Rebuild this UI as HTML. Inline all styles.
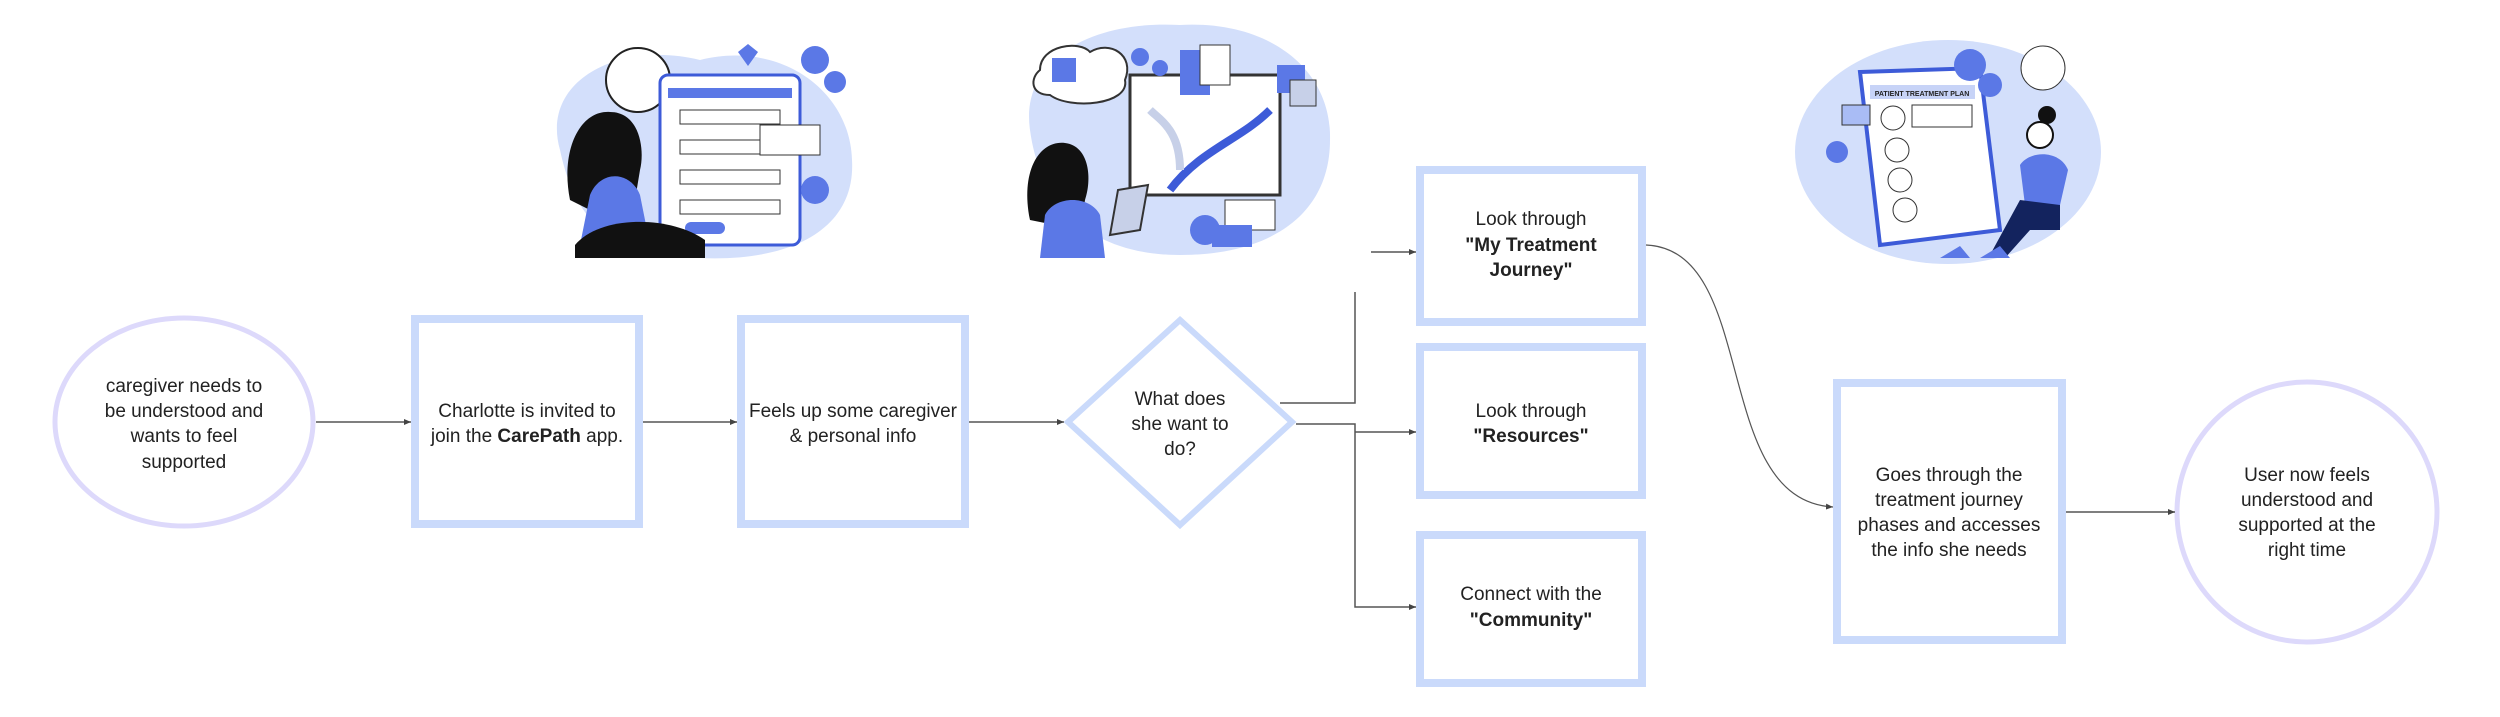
<!DOCTYPE html>
<html><head><meta charset="utf-8"><style>
html,body{margin:0;padding:0;background:#fff;}
svg{display:block;}
text{font-family:"Liberation Sans",sans-serif;font-size:19px;fill:#222;text-anchor:middle;}
.b{font-weight:bold;}
</style></head><body>
<svg width="2500" height="717" viewBox="0 0 2500 717" xmlns="http://www.w3.org/2000/svg">
<defs>
<marker id="ah" markerWidth="8" markerHeight="8" refX="7" refY="4" orient="auto" markerUnits="userSpaceOnUse">
<path d="M0,1 L7,4 L0,7 z" fill="#444"/></marker>
</defs>

<!-- illustration 1 -->
<g>
<path d="M560,150 C540,80 620,40 700,60 C780,40 850,90 852,160 C856,230 790,262 700,258 C610,258 575,220 560,150 z" fill="#d3dffb"/>
<circle cx="638" cy="80" r="32" fill="#fff" stroke="#222" stroke-width="2"/>
<rect x="660" y="75" width="140" height="170" rx="8" fill="#fff" stroke="#3d5bd8" stroke-width="3"/>
<rect x="668" y="88" width="124" height="10" fill="#5b78e6"/>
<rect x="680" y="110" width="100" height="14" fill="#fff" stroke="#333"/>
<rect x="680" y="140" width="100" height="14" fill="#fff" stroke="#333"/>
<rect x="680" y="170" width="100" height="14" fill="#fff" stroke="#333"/>
<rect x="680" y="200" width="100" height="14" fill="#fff" stroke="#333"/>
<rect x="685" y="222" width="40" height="12" rx="6" fill="#5b78e6"/>
<rect x="760" y="125" width="60" height="30" fill="#fff" stroke="#333"/>
<circle cx="815" cy="60" r="14" fill="#5b78e6"/><circle cx="835" cy="82" r="11" fill="#5b78e6"/>
<circle cx="815" cy="190" r="14" fill="#5b78e6"/>
<path d="M738,52 l10,-8 l10,8 l-10,14 z" fill="#5b78e6"/>
<path d="M570,200 C560,150 580,110 610,112 C640,112 645,150 640,170 L630,230 z" fill="#111"/>
<path d="M590,195 C600,170 630,170 640,195 L650,245 L580,245 z" fill="#5b78e6"/>
<path d="M575,245 C600,215 670,215 705,240 L705,258 L575,258 z" fill="#111"/>
</g>

<!-- illustration 2 -->
<g>
<path d="M1030,130 C1020,60 1090,20 1180,25 C1270,20 1332,70 1330,140 C1330,215 1270,255 1180,255 C1090,255 1040,205 1030,130 z" fill="#d3dffb"/>
<path d="M1040,70 C1040,45 1080,40 1090,52 C1110,40 1135,55 1125,80 C1130,105 1070,110 1050,95 C1030,95 1030,78 1040,70 z" fill="#fff" stroke="#333" stroke-width="2"/>
<rect x="1052" y="58" width="24" height="24" fill="#5b78e6"/>
<rect x="1130" y="75" width="150" height="120" fill="#fff" stroke="#333" stroke-width="3"/>
<path d="M1170,190 C1200,150 1240,140 1270,110" stroke="#3d5bd8" stroke-width="8" fill="none"/>
<path d="M1180,170 C1180,130 1160,120 1150,110" stroke="#c7d0e8" stroke-width="8" fill="none"/>
<rect x="1180" y="50" width="30" height="45" fill="#5b78e6"/>
<rect x="1200" y="45" width="30" height="40" fill="#fff" stroke="#333"/>
<rect x="1277" y="65" width="28" height="28" fill="#5b78e6"/>
<rect x="1290" y="80" width="26" height="26" fill="#c7d0e8" stroke="#333"/>
<circle cx="1140" cy="57" r="9" fill="#5b78e6"/><circle cx="1160" cy="68" r="8" fill="#5b78e6"/>
<circle cx="1205" cy="230" r="15" fill="#5b78e6"/>
<rect x="1225" y="200" width="50" height="30" fill="#fff" stroke="#333"/>
<rect x="1212" y="225" width="40" height="22" fill="#5b78e6"/>
<path d="M1030,220 C1020,170 1040,140 1065,143 C1090,146 1092,180 1085,200 L1080,230 z" fill="#111"/>
<path d="M1045,215 C1055,195 1090,195 1100,215 L1105,258 L1040,258 z" fill="#5b78e6"/>
<path d="M1118,190 l30,-5 l-8,45 l-30,5 z" fill="#c7d0e8" stroke="#333" stroke-width="2"/>
</g>

<!-- illustration 3 -->
<g>
<ellipse cx="1948" cy="152" rx="153" ry="112" fill="#d3dffb"/>
<path d="M1860,72 L1980,68 L2000,230 L1880,245 z" fill="#fff" stroke="#3d5bd8" stroke-width="4"/>
<rect x="1870" y="85" width="105" height="14" fill="#c7d3f7"/>
<text x="1922" y="96" style="font-size:7px;font-weight:bold;fill:#222;">PATIENT TREATMENT PLAN</text>
<circle cx="1893" cy="118" r="12" fill="#fff" stroke="#333"/>
<circle cx="1897" cy="150" r="12" fill="#fff" stroke="#333"/>
<circle cx="1900" cy="180" r="12" fill="#fff" stroke="#333"/>
<circle cx="1905" cy="210" r="12" fill="#fff" stroke="#333"/>
<rect x="1912" y="105" width="60" height="22" fill="#fff" stroke="#333"/>
<rect x="1842" y="105" width="28" height="20" fill="#a9bcf5" stroke="#333"/>
<circle cx="1970" cy="65" r="16" fill="#5b78e6"/><circle cx="1990" cy="85" r="12" fill="#5b78e6"/>
<circle cx="1837" cy="152" r="11" fill="#5b78e6"/>
<circle cx="2043" cy="68" r="22" fill="#fff" stroke="#333"/>
<path d="M2020,165 C2030,150 2060,150 2068,170 L2060,205 L2025,205 z" fill="#5b78e6"/>
<circle cx="2040" cy="135" r="13" fill="#fff" stroke="#111" stroke-width="2"/>
<circle cx="2047" cy="115" r="9" fill="#111"/>
<path d="M1990,255 L2020,200 L2060,205 L2060,230 L2030,230 L2005,258 z" fill="#13235e"/>
<path d="M1940,258 l20,-12 l10,12 z M1980,258 l20,-12 l10,12 z" fill="#5b78e6"/>
</g>

<!-- shapes -->
<ellipse cx="184" cy="422" rx="129" ry="104" fill="#fff" stroke="#ddd9fb" stroke-width="5"/>
<rect x="415" y="319" width="224" height="205" fill="#fff" stroke="#cadafb" stroke-width="8"/>
<rect x="741" y="319" width="224" height="205" fill="#fff" stroke="#cadafb" stroke-width="8"/>
<polygon points="1180,320 1292,422 1180,525 1068,422" fill="#fff" stroke="#cadafb" stroke-width="6"/>
<rect x="1420" y="170" width="222" height="152" fill="#fff" stroke="#cadafb" stroke-width="8"/>
<rect x="1420" y="347" width="222" height="148" fill="#fff" stroke="#cadafb" stroke-width="8"/>
<rect x="1420" y="535" width="222" height="148" fill="#fff" stroke="#cadafb" stroke-width="8"/>
<rect x="1837" y="383" width="225" height="257" fill="#fff" stroke="#cadafb" stroke-width="8"/>
<ellipse cx="2307" cy="512" rx="130" ry="130" fill="#fff" stroke="#ddd9fb" stroke-width="5"/>

<!-- connectors -->
<g stroke="#555" stroke-width="1.5" fill="none">
<line x1="316" y1="422" x2="411" y2="422" marker-end="url(#ah)"/>
<line x1="643" y1="422" x2="737" y2="422" marker-end="url(#ah)"/>
<line x1="969" y1="422" x2="1064" y2="422" marker-end="url(#ah)"/>
<polyline points="1280,403 1355,403 1355,292"/>
<line x1="1371" y1="252" x2="1416" y2="252" marker-end="url(#ah)"/>
<polyline points="1296,424 1355,424 1355,607 1416,607" marker-end="url(#ah)"/>
<polyline points="1355,432 1416,432" marker-end="url(#ah)"/>
<path d="M1646,245 C1760,250 1710,500 1833,507" marker-end="url(#ah)" stroke-width="1.2"/>
<line x1="2066" y1="512" x2="2175" y2="512" marker-end="url(#ah)"/>
</g>

<!-- text -->
<text x="184" y="392">caregiver needs to</text>
<text x="184" y="417">be understood and</text>
<text x="184" y="442">wants to feel</text>
<text x="184" y="468">supported</text>

<text x="527" y="417">Charlotte is invited to</text>
<text x="527" y="442">join the <tspan class="b">CarePath</tspan> app.</text>

<text x="853" y="417">Feels up some caregiver</text>
<text x="853" y="442">&amp; personal info</text>

<text x="1180" y="405">What does</text>
<text x="1180" y="430">she want to</text>
<text x="1180" y="455">do?</text>

<text x="1531" y="225">Look through</text>
<text x="1531" y="251" class="b">"My Treatment</text>
<text x="1531" y="276" class="b">Journey"</text>

<text x="1531" y="417">Look through</text>
<text x="1531" y="442" class="b">"Resources"</text>

<text x="1531" y="600">Connect with the</text>
<text x="1531" y="626" class="b">"Community"</text>

<text x="1949" y="481">Goes through the</text>
<text x="1949" y="506">treatment journey</text>
<text x="1949" y="531">phases and accesses</text>
<text x="1949" y="556">the info she needs</text>

<text x="2307" y="481">User now feels</text>
<text x="2307" y="506">understood and</text>
<text x="2307" y="531">supported at the</text>
<text x="2307" y="556">right time</text>
</svg>
</body></html>
